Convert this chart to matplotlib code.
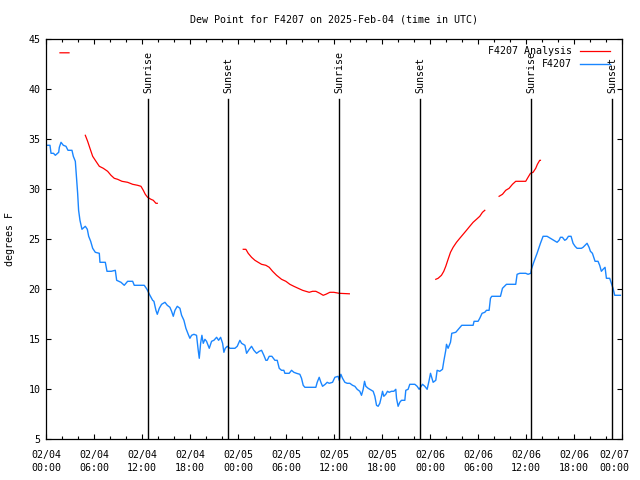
import numpy as np
import matplotlib
matplotlib.use("Agg")
import matplotlib.pyplot as plt
from matplotlib.ticker import MultipleLocator
from matplotlib.transforms import ScaledTranslation

# hours since 2025-02-04 00:00 UTC
obs_hours = [0.0, 0.46, 0.59, 0.9, 1.13, 1.55, 1.63, 1.84, 2.13, 2.46, 2.71, 2.96, 3.21, 3.38, 3.63,
             3.8, 3.92, 4.04, 4.21, 4.46, 4.59, 4.88, 5.13, 5.3, 5.55, 5.8, 6.13, 6.63, 6.71, 7.38,
             7.59, 8.13, 8.63, 8.8, 9.34, 9.75, 10.17, 10.8, 11.0, 12.25, 12.59, 12.96, 13.3, 13.46,
             13.71, 13.88, 14.13, 14.42, 14.84, 15.13, 15.46, 15.67, 15.88, 16.09, 16.38, 16.71,
             16.92, 17.21, 17.46, 17.75, 17.96, 18.17, 18.46, 18.79, 19.0, 19.13, 19.3, 19.46, 19.63,
             19.84, 20.04, 20.38, 20.67, 20.96, 21.3, 21.55, 21.8, 22.05, 22.21, 22.38, 22.63, 22.96,
             23.59, 23.88, 24.21, 24.42, 24.84, 25.05, 25.38, 25.67, 25.96, 26.3, 26.63, 26.92,
             27.21, 27.46, 27.63, 27.88, 28.21, 28.59, 28.88, 29.13, 29.42, 29.71, 29.84, 30.38,
             30.67, 30.96, 31.29, 31.71, 31.92, 32.13, 32.34, 33.71, 33.88, 34.13, 34.34, 34.55,
             34.88, 35.13, 35.38, 35.8, 36.09, 36.5, 36.63, 36.84, 37.05, 37.34, 37.63, 37.96,
             38.3, 38.59, 38.88, 39.21, 39.42, 39.63, 39.8, 39.96, 40.25, 40.67, 40.88, 41.09,
             41.3, 41.5, 41.71, 41.92, 42.05, 42.21, 42.46, 42.67, 42.88, 43.17, 43.46, 43.71,
             43.8, 44.0, 44.21, 44.42, 44.84, 44.96, 45.25, 45.46, 46.09, 46.38, 46.63, 46.8,
             47.05, 47.34, 47.63, 47.88, 48.05, 48.38, 48.71, 48.88, 49.21, 49.55, 49.71, 49.96,
             50.05, 50.25, 50.55, 50.71, 51.21, 51.63, 51.96, 53.38, 53.5, 54.0, 54.21, 54.5,
             54.84, 55.05, 55.38, 55.55, 55.71, 56.8, 57.05, 57.55, 58.71, 58.88, 59.21, 59.96,
             60.25, 60.59, 60.67, 60.96, 61.38, 61.8, 62.13, 62.63, 63.05, 63.46, 63.88, 64.13,
             64.3, 64.55, 64.84, 65.05, 65.3, 65.63, 65.88, 66.13, 66.38, 66.92, 67.13, 67.38,
             67.63, 67.88, 68.05, 68.3, 68.63, 69.0, 69.21, 69.42, 69.63, 69.88, 70.05, 70.46,
             70.67, 70.88, 71.09, 71.8]
obs_dew = [34.4, 34.4, 33.6, 33.6, 33.4, 33.7, 34.2, 34.7, 34.4, 34.3, 33.9, 33.9, 33.9, 33.3, 32.8,
           30.9, 29.6, 27.9, 26.9, 26.0, 26.1, 26.3, 26.0, 25.3, 24.8, 24.1, 23.7, 23.6, 22.7, 22.7,
           21.8, 21.8, 21.9, 20.9, 20.7, 20.4, 20.8, 20.8, 20.4, 20.4, 20.0, 19.4, 18.9, 18.8,
           17.9, 17.5, 18.1, 18.5, 18.7, 18.4, 18.2, 17.8, 17.3, 17.9, 18.3, 18.1,
           17.4, 16.9, 16.1, 15.5, 15.1, 15.4, 15.5, 15.4, 13.9, 13.1, 14.6, 15.4, 14.6,
           15.0, 14.8, 14.1, 14.8, 14.9, 15.2, 14.9, 15.2, 14.6, 13.7, 14.1, 14.3, 14.1,
           14.1, 14.3, 14.9, 14.6, 14.4, 13.6, 14.0, 14.3, 13.9, 13.6, 13.8, 13.9,
           13.4, 12.9, 12.9, 13.3, 13.3, 12.9, 12.9, 12.1, 11.9, 11.9, 11.6, 11.6,
           11.9, 11.7, 11.6, 11.5, 11.1, 10.4, 10.2, 10.2, 10.7, 11.2, 10.7, 10.3,
           10.5, 10.7, 10.6, 10.7, 11.2, 11.3, 10.9, 11.5, 11.1, 10.7, 10.6, 10.6,
           10.4, 10.3, 10.0, 9.8, 9.4, 10.0, 10.8, 10.3, 10.1, 9.9, 9.8, 9.3,
           8.4, 8.3, 8.6, 9.3, 9.8, 9.3, 9.5, 9.8, 9.7, 9.8, 9.8, 10.0,
           9.1, 8.3, 8.7, 8.9, 8.9, 9.9, 10.0, 10.5, 10.5, 10.3, 10.0, 10.2,
           10.5, 10.3, 10.0, 10.9, 11.6, 10.7, 10.9, 11.9, 11.8, 12.0, 12.8, 13.9,
           14.5, 14.1, 14.7, 15.6, 15.7, 16.1, 16.4, 16.4, 16.8, 16.8, 17.1, 17.6,
           17.7, 17.9, 17.9, 19.1, 19.3, 19.3, 20.1, 20.5, 20.5, 21.5, 21.6, 21.6,
           21.5, 21.6, 22.0, 22.7, 23.6, 24.6, 25.3, 25.3, 25.1, 24.9, 24.7, 24.9,
           25.2, 25.2, 24.9, 25.0, 25.3, 25.3, 24.6, 24.3, 24.1, 24.1, 24.2, 24.4,
           24.6, 24.2, 23.8, 23.6, 22.8, 22.8, 22.4, 21.8, 22.0, 22.2, 21.1, 21.1,
           20.6, 20.1, 19.4, 19.4]

# analysis series, gaps marked with nan
ana_hours = [1.71, 2.84, np.nan,
             4.88, 5.17, 5.46, 5.8, 6.21, 6.63, 7.13, 7.67, 8.09, 8.5, 8.92, 9.46, 10.17, 10.8,
             11.42, 11.84, 12.13, 12.38, 12.67, 13.09, 13.38, 13.71, 13.88, np.nan,
             24.63, 24.96, 25.25, 25.67, 26.09, 26.5, 26.92, 27.46, 27.88, 28.3, 28.8, 29.42,
             29.96, 30.46, 30.96, 31.5, 32.05, 32.46, 32.88, 33.3, 33.71, 34.21, 34.63, 34.96,
             35.46, 35.96, 36.63, 37.9, np.nan,
             48.71, 49.0, 49.42, 49.71, 49.96, 50.25, 50.55, 50.88, 51.3, 51.71, 52.13, 52.55,
             52.96, 53.38, 53.8, 54.21, 54.55, 54.84, np.nan,
             56.63, 57.05, 57.46, 57.88, 58.3, 58.71, 59.96, 60.25, 60.55, 60.88, 61.21, 61.42,
             61.71, 61.8]
ana_dew = [43.65, 43.65, np.nan,
           35.4, 34.8, 34.1, 33.3, 32.8, 32.3, 32.1, 31.8, 31.4, 31.1, 31.0, 30.8, 30.7, 30.5,
           30.4, 30.3, 29.9, 29.5, 29.2, 29.0, 28.9, 28.6, 28.6, np.nan,
           24.0, 24.0, 23.6, 23.2, 22.9, 22.7, 22.5, 22.4, 22.2, 21.8, 21.4, 21.0,
           20.8, 20.5, 20.3, 20.1, 19.9, 19.8, 19.7, 19.8, 19.8, 19.6, 19.4, 19.5,
           19.7, 19.7, 19.6, 19.55, np.nan,
           21.0, 21.1, 21.4, 21.8, 22.3, 23.0, 23.7, 24.2, 24.7, 25.1, 25.5, 25.9,
           26.3, 26.7, 27.0, 27.3, 27.7, 27.9, np.nan,
           29.3, 29.5, 29.9, 30.1, 30.5, 30.8, 30.8, 31.2, 31.6, 31.7, 32.1, 32.5,
           32.9, 32.9]

sun_hours = [12.75, 22.75, 36.63, 46.75, 60.63, 70.75]
sun_labels = ["Sunrise", "Sunset", "Sunrise", "Sunset", "Sunrise", "Sunset"]

tick_hours = [0, 6, 12, 18, 24, 30, 36, 42, 48, 54, 60, 66, 72]
tick_labels = ["02/04\n00:00", "02/04\n06:00", "02/04\n12:00", "02/04\n18:00",
               "02/05\n00:00", "02/05\n06:00", "02/05\n12:00", "02/05\n18:00",
               "02/06\n00:00", "02/06\n06:00", "02/06\n12:00", "02/06\n18:00",
               "02/07\n00:00"]

plt.rcParams["font.family"] = ["DejaVu Sans Mono"]
plt.rcParams["font.size"] = 7.2

fig = plt.figure(figsize=(6.4, 4.8), dpi=100)
ax = fig.add_axes([46.3 / 640, 1 - 439.3 / 480, 575.7 / 640, 400 / 480])

ax.plot(ana_hours, ana_dew, color="#ff0000", lw=0.9, label="F4207 Analysis")
ax.plot(obs_hours, obs_dew, color="#1a86ff", lw=1.0, label="F4207")

for h, lab in zip(sun_hours, sun_labels):
    ax.plot([h, h], [5, 39.0], color="black", lw=1.0)
    ax.text(h, 39.6, lab, rotation=90, ha="center", va="bottom")

ax.set_xlim(0, 72)
ax.set_ylim(5, 45)
ax.set_xticks(tick_hours)
ax.set_xticklabels(tick_labels, linespacing=1.35)
ax.xaxis.set_minor_locator(MultipleLocator(2))
ax.yaxis.set_major_locator(MultipleLocator(5))
ax.tick_params(which="both", direction="in", top=True, right=True, width=0.8)
ax.tick_params(which="major", length=3.6)
ax.tick_params(which="minor", length=2.2)
ax.tick_params(axis="x", pad=7.5)
ax.tick_params(axis="y", pad=4)
for s in ax.spines.values():
    s.set_linewidth(0.9)

# last date label is pulled in so it stays on the canvas
last = ax.get_xticklabels()[-1]
last.set_transform(last.get_transform() + ScaledTranslation(-8 / 100, 0, fig.dpi_scale_trans))

ax.set_title("Dew Point for F4207 on 2025-Feb-04 (time in UTC)", fontsize=7.2, pad=12)
ax.set_ylabel("degrees F")
ax.yaxis.set_label_coords(-0.055, 0.5)

ax.legend(loc="upper right", frameon=False, markerfirst=False, handlelength=3.0,
          handletextpad=0.8, labelspacing=0.3, borderaxespad=0.3,
          bbox_to_anchor=(1 - 5 / 575.7, 1))

fig.savefig("out.png", dpi=100)
